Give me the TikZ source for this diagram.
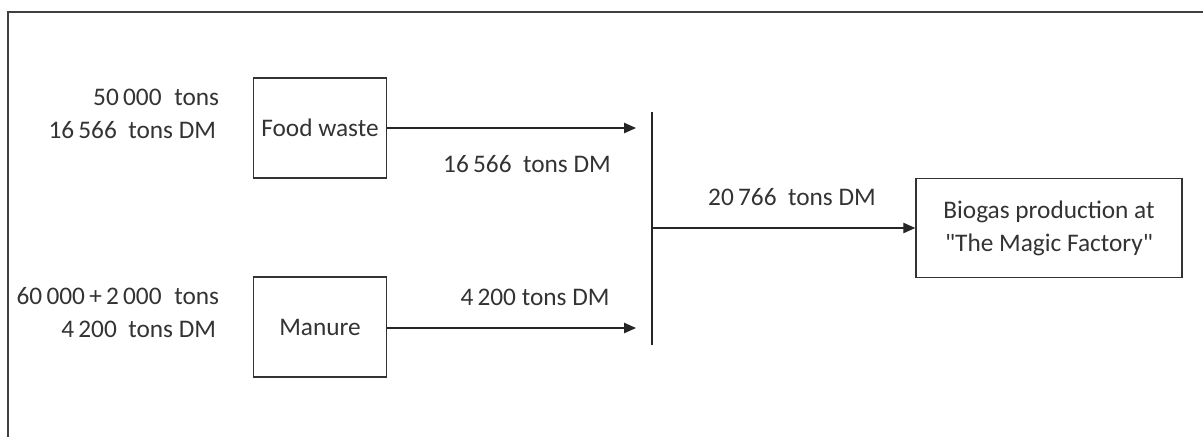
\documentclass[tikz,border=0pt]{standalone}
\usepackage{fontspec}
\setmainfont{Carlito}
\usetikzlibrary{arrows.meta}

\begin{document}
\begin{tikzpicture}[x=0.025cm,y=-0.025cm,font=\fontsize{18}{23.5}\selectfont,
  every node/.style={text=black!80},
  box/.style={draw=black!80,line width=1pt,minimum width=3.325cm,minimum height=2.5cm,align=center},
  flow/.style={draw=black!85,line width=1pt,-{Triangle[length=0.3cm,width=0.26cm]}}]
\useasboundingbox (0,0) rectangle (1203,437);
\draw[black!75,line width=1.1pt] (1203,12) -- (8,12) -- (8,437);
% boxes
\node[box] (food) at (320,128) {Food waste};
\node[box] (manure) at (320,327) {Manure};
\node[box,minimum width=6.65cm,minimum height=2.475cm] (biogas) at (1049,228)
  {Biogas production at\\\textquotedbl The Magic Factory\textquotedbl};
% collecting bar
\coordinate (bartop) at (652,112); \coordinate (barbot) at (652,345);
\coordinate (in1) at (636,128); \coordinate (in2) at (636,328);
\coordinate (out) at (652,228);
\draw[black!85,line width=1pt] (bartop) -- (barbot);
\draw[flow] (food.east) -- (in1);
\draw[flow] (manure.east |- in2) -- (in2);
\draw[flow] (out) -- (biogas.west);
% amounts
\foreach \n/\x/\y/\t in {fa/224/97/{50\,000\enspace tons},fb/221/130/{16\,566~~tons DM},
  ma/224/296/{60\,000\,+\,2\,000\enspace tons},mb/221/329/{4\,200~~tons DM}}
  \node[anchor=east] (\n) at (\x,\y) {\t};
\node (flowa) at (527,164) {16\,566~~tons DM};
\node (flowb) at (535,297) {4\,200 tons DM};
\node (flowc) at (792,197) {20\,766~~tons DM};
\end{tikzpicture}
\end{document}
